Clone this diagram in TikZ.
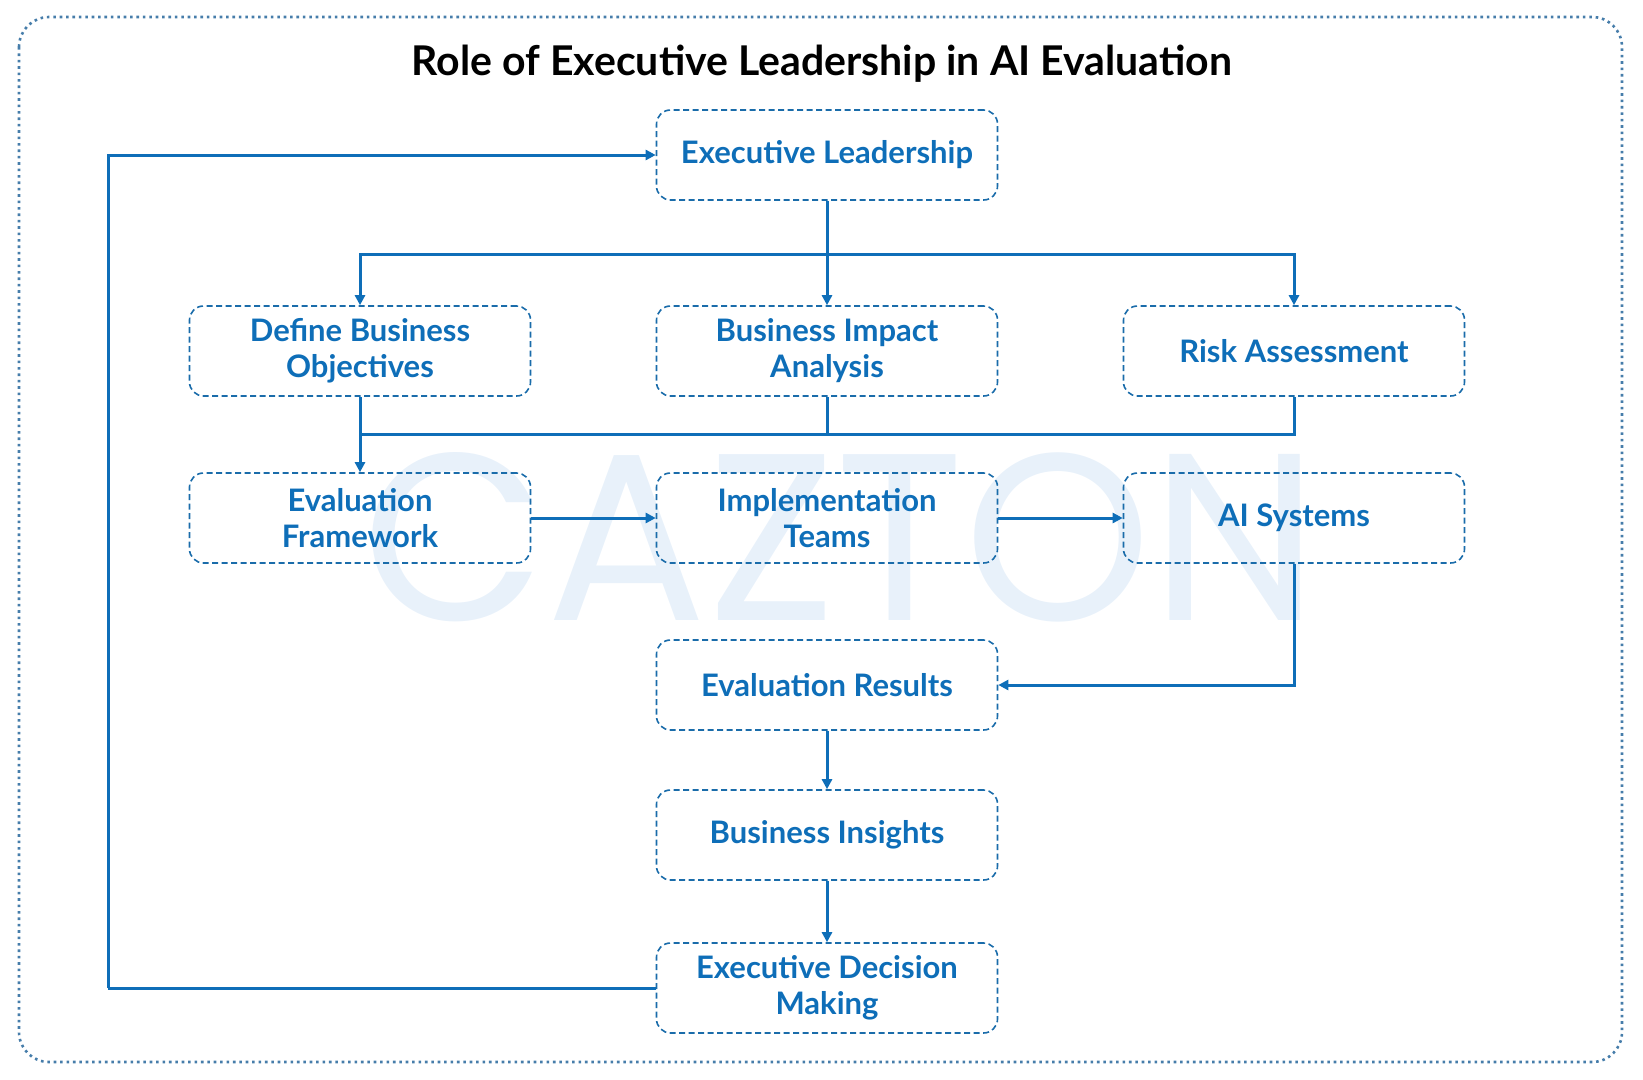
\documentclass[tikz,border=0pt]{standalone}
\usepackage{fontspec}
\setmainfont{Lato}
\newfontfamily\wmfont{Poppins}
\usetikzlibrary{arrows.meta}
\definecolor{cblue}{RGB}{14,110,184}
\definecolor{bordc}{RGB}{26,108,170}
\definecolor{outc}{RGB}{70,125,170}
\definecolor{wmc}{RGB}{232,241,250}
\tikzset{
  box/.style={draw=bordc, dashed, dash pattern=on 6pt off 3.5pt, line width=1.6pt, rounded corners=14pt,
    minimum width=341pt, minimum height=90pt, align=center, text=cblue,
    font=\fontsize{31}{36}\selectfont\bfseries, inner sep=0pt},
  conn/.style={draw=cblue, line width=3pt},
  arr/.style={conn, -{Triangle[length=10pt,width=10pt]}},
}
\begin{document}
\begin{tikzpicture}[x=1pt,y=-1pt]
\useasboundingbox (0,0) rectangle (1643,1079);
\draw[outc, line width=2.6pt, dash pattern=on 2.6pt off 3.8pt, rounded corners=30pt] (19,17) rectangle (1622,1062);
\node[text=wmc, font=\wmfont\fontsize{238}{238}\selectfont] (wm) at (841,537) {CAZTON};
\node[font=\fontsize{41}{48}\selectfont\bfseries, text=black] (title) at (822,64) {Role of Executive Leadership in AI Evaluation};

\node[box] (el) at (827,155) {Executive Leadership};
\node[box] (dbo) at (360,351) {Define Business\\Objectives};
\node[box] (bia) at (827,351) {Business Impact\\Analysis};
\node[box] (ra) at (1294,351) {Risk Assessment};
\node[box] (ef) at (360,518) {Evaluation\\Framework};
\node[box] (it) at (827,518) {Implementation\\Teams};
\node[box] (ai) at (1294,518) {AI Systems};
\node[box] (er) at (827,685) {Evaluation Results};
\node[box] (bi) at (827,835) {Business Insights};
\node[box] (edm) at (827,988) {Executive Decision\\Making};

\coordinate (j1) at (827,254);
\coordinate (j2) at (827,434);
\coordinate (fl) at (108,988);

\draw[conn] (el.south) -- (j1);
\draw[arr] (j1) -| (dbo.north);
\draw[arr] (j1) -- (bia.north);
\draw[arr] (j1) -| (ra.north);
\draw[conn] (bia.south) -- (j2);
\draw[conn] (ra.south) |- (j2);
\draw[conn] (j2) -| (360,434);
\draw[arr] (dbo.south) -- (ef.north);
\draw[arr] (ef.east) -- (it.west);
\draw[arr] (it.east) -- (ai.west);
\draw[arr] (ai.south) |- (er.east);
\draw[arr] (er.south) -- (bi.north);
\draw[arr] (bi.south) -- (edm.north);
\draw[conn] (edm.west) -- (fl);
\draw[arr] (fl) |- (el.west);
\end{tikzpicture}
\end{document}
